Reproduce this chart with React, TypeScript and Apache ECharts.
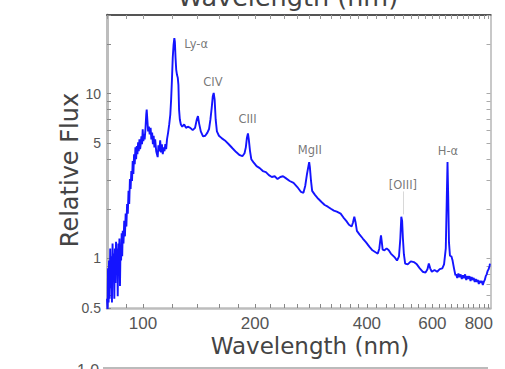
import React, { useEffect, useRef } from "react";
import * as echarts from "echarts";

// Composite quasar spectrum
const wavelength = [
  80.0, 80.3, 80.5, 80.8, 81.0, 81.3, 81.6, 81.9, 82.2, 82.5, 82.8, 83.1, 83.4, 83.7, 84.0, 84.3, 84.6, 84.9,
  85.2, 85.5, 85.8, 86.1, 86.4, 86.7, 87.0, 87.3, 87.6, 87.9, 88.2, 88.6, 89.0, 89.4, 89.8, 90.2, 90.6, 91.0,
  91.4, 91.8, 92.2, 92.6, 93.0, 93.4, 93.8, 94.2, 94.6, 95.0, 95.4, 95.8, 96.2, 96.6, 97.0, 97.4, 97.8, 98.2,
  98.6, 99.0, 99.4, 99.8, 100.2, 100.6, 101.0, 101.5, 102.0, 102.3, 102.7, 103.2, 103.7, 104.2, 104.8, 105.3,
  105.8, 106.3, 106.8, 107.3, 107.8, 108.5, 109.0, 109.5, 110.0, 110.6, 111.2, 111.8, 112.4, 113.0, 113.6,
  114.2, 114.8, 115.4, 116.0, 116.8, 117.6, 118.4, 119.0, 119.6, 120.2, 120.8, 121.4, 121.8, 122.3, 122.8,
  123.4, 124.0, 124.5, 125.0, 125.6, 126.4, 127.5, 129, 130.5, 132, 134, 136, 138, 139.5, 140.5, 141.5, 143,
  145, 147, 149, 150.5, 151.8, 153, 154, 154.9, 155.8, 156.8, 158, 160, 163, 166, 170, 174, 178, 182, 185,
  187.5, 189, 190.3, 191.5, 192.5, 194, 195.5, 198, 202, 206, 210, 214, 218, 222, 226, 230, 234, 238, 242,
  248, 254, 260, 266, 270, 273, 276, 278.5, 279.8, 281, 283, 285, 290, 296, 302, 308, 314, 320, 326, 332,
  340, 346, 352, 358, 364, 367, 370, 373, 376, 382, 390, 398, 406, 414, 422, 428, 432, 434.5, 436.5, 438.5,
  441, 446, 452, 458, 464, 470, 476, 482, 488, 492, 495, 497.5, 500, 503, 507, 515, 525, 535, 545, 555, 565,
  575, 582, 587, 592, 598, 608, 618, 628, 638, 645, 652, 656, 659, 662, 665, 669, 675, 680, 686, 692, 695,
  700, 705, 710, 715, 720, 725, 730, 735, 740, 745, 750, 755, 760, 765, 770, 775, 780, 785, 790, 795, 800,
  805, 810, 815, 820, 825, 830, 835, 840, 845, 850, 855, 857,
];
const flux = [
  0.57, 0.47, 0.87, 0.54, 0.97, 0.57, 1.15, 0.66, 1.03, 0.54, 1.23, 0.76, 1.07, 0.57, 1.15, 0.71, 1.26, 0.81,
  1.15, 0.59, 1.23, 0.87, 1.32, 0.68, 1.18, 0.97, 1.42, 1.03, 1.47, 1.23, 1.69, 1.36, 1.87, 1.56, 2.14, 1.87,
  2.57, 2.14, 3.03, 2.64, 3.39, 2.95, 3.9, 3.25, 4.29, 3.73, 4.72, 4.0, 4.8, 4.29, 5.06, 4.47, 5.28, 4.6,
  4.93, 5.5, 4.93, 6.07, 5.15, 5.66, 5.28, 6.07, 7.47, 8.0, 6.97, 5.9, 6.3, 5.66, 6.2, 5.28,
  5.8, 4.93, 5.55, 4.72, 5.28, 4.47, 4.29, 4.12, 4.85, 4.47, 5.2, 4.4, 4.93, 4.29, 4.72,
  4.47, 4.93, 4.6, 5.28, 5.8, 6.5, 7.47, 9.2, 12.1, 16.5, 19.7, 21.7, 20.6, 16.5, 14.0,
  13.0, 12.5, 11.3, 8.0, 6.97, 6.5, 6.3, 6.5, 6.2, 6.3, 6.2, 6.0, 6.2, 6.97, 7.3, 6.6, 5.9,
  5.5, 5.55, 5.8, 6.1, 6.97, 8.2, 9.6, 10.1, 9.2, 6.97, 5.9, 5.55, 5.35, 5.2, 4.93, 4.66, 4.42, 4.23, 4.17,
  4.35, 4.72, 5.4, 5.74, 5.28, 4.47, 4.0, 3.84, 3.63, 3.53, 3.39, 3.34, 3.2, 3.12, 3.15, 3.03, 3.12, 3.15, 3.07,
  2.95, 2.87, 2.71, 2.53, 2.5, 2.75, 3.25, 3.63, 3.84, 3.58, 2.95, 2.57, 2.43, 2.3, 2.2, 2.11, 2.06, 2.0, 1.95, 1.92,
  1.87, 1.77, 1.69, 1.6, 1.56, 1.65, 1.79, 1.65, 1.47, 1.4, 1.32, 1.25, 1.18, 1.12, 1.09, 1.07, 1.15, 1.28, 1.38, 1.27,
  1.13, 1.12, 1.15, 1.12, 1.07, 1.04, 1.01, 0.97, 1.03, 1.32, 1.79, 1.69, 1.32, 1.06, 0.93, 0.92, 0.96, 0.95, 0.92, 0.87, 0.83,
  0.82, 0.86, 0.93, 0.87, 0.83, 0.85, 0.83, 0.86, 0.87, 0.92, 1.15, 2.3, 3.84, 2.3, 1.25, 1.04, 1.03, 0.97, 0.87, 0.79, 0.8,
  0.76, 0.81, 0.77, 0.8, 0.75, 0.79, 0.76, 0.8, 0.74, 0.78, 0.75, 0.78, 0.73, 0.77, 0.74, 0.76, 0.72, 0.75, 0.72, 0.74, 0.7,
  0.73, 0.71, 0.73, 0.69, 0.72, 0.74, 0.78, 0.8, 0.84, 0.86, 0.9, 0.93,
];

// Emission-line annotations (label centre in data units)
const lineLabels = ["Ly-α", "CIV", "CIII", "MgII", "[OIII]", "H-α"];
const labelWavelength = [139, 154.2, 191, 281, 500, 661];
const labelFlux = [20.0, 11.8, 6.97, 4.54, 2.79, 4.47];

// Axes
const xRange = [80, 860];
const yRange = [0.5, 30];
const xTickLabels = [100, 200, 400, 600, 800];
const xTicks = [
  80, 90, 100, 120, 140, 160, 180, 200, 220, 240, 260, 280, 300, 320, 340, 360, 380, 400, 425, 450, 475, 500,
  525, 550, 575, 600, 625, 650, 675, 700, 725, 750, 775, 800, 825, 850,
];
const yTickLabels = [0.5, 1, 5, 10];
const yTicks = [0.5, 0.6, 0.7, 0.8, 0.9, 1, 2, 3, 4, 5, 6, 7, 8, 9, 10, 20, 30];

const tickFont = "Liberation Sans, Arial, sans-serif";
const titleFont = "DejaVu Sans, sans-serif";

export default function App() {
  const ref = useRef<HTMLDivElement>(null);
  useEffect(() => {
    const chart = echarts.init(ref.current!, null, { renderer: "svg" });
    const seriesData = wavelength.map((w, i) => [w, flux[i]]);
    const labelData = lineLabels.map((n, i) => ({ name: n, value: [labelWavelength[i], labelFlux[i]] }));
    chart.setOption({
      animation: false,
      backgroundColor: "#ffffff",
      grid: { left: 107, right: 14.5, top: 15, bottom: 61 },
      xAxis: [
        {
          type: "log",
          logBase: 10,
          min: xRange[0],
          max: xRange[1],
          position: "bottom",
          axisLine: { lineStyle: { color: "#bdbdbd", width: 2.5 } },
          axisTick: { inside: true, length: 4, customValues: xTicks, lineStyle: { color: "#888", width: 1 } },
          axisLabel: {
            customValues: xTickLabels,
            formatter: (v: number) => String(Math.round(v)),
            color: "#555",
            fontSize: 17,
            fontFamily: tickFont,
            margin: 7,
          },
          splitLine: { show: false },
          minorTick: { show: false },
        },
        {
          type: "log",
          logBase: 10,
          min: xRange[0],
          max: xRange[1],
          position: "top",
          axisLine: { lineStyle: { color: "#555", width: 2 } },
          axisTick: { inside: true, length: 4, customValues: xTicks, lineStyle: { color: "#999", width: 1 } },
          axisLabel: { show: false },
          splitLine: { show: false },
        },
      ],
      yAxis: [
        {
          type: "log",
          logBase: 10,
          min: yRange[0],
          max: yRange[1],
          position: "left",
          axisLine: { show: true, lineStyle: { color: "#bdbdbd", width: 3 } },
          axisTick: { show: true, inside: true, length: 4, customValues: yTicks, lineStyle: { color: "#888", width: 1 } },
          axisLabel: {
            customValues: yTickLabels,
            formatter: (v: number) => String(v),
            color: "#555",
            fontSize: 14,
            fontFamily: tickFont,
            margin: 6,
          },
          splitLine: { show: false },
        },
        {
          type: "log",
          logBase: 10,
          min: yRange[0],
          max: yRange[1],
          position: "right",
          axisLine: { show: true, lineStyle: { color: "#c8c8c8", width: 2 } },
          axisTick: { show: true, inside: true, length: 4, customValues: yTicks, lineStyle: { color: "#aaa", width: 1 } },
          axisLabel: { show: false },
          splitLine: { show: false },
        },
      ],
      series: [
        {
          type: "line",
          xAxisIndex: 0,
          yAxisIndex: 0,
          data: seriesData,
          showSymbol: false,
          symbol: "none",
          clip: true,
          lineStyle: { color: "#1414ff", width: 1.9 },
          silent: true,
          markLine: {
            silent: true,
            symbol: "none",
            label: { show: false },
            lineStyle: { color: "#d8d8d8", width: 1, type: "solid" },
            data: [[{ coord: [500, 2.55] }, { coord: [500, 1.85] }]],
          },
        },
        {
          type: "scatter",
          xAxisIndex: 0,
          yAxisIndex: 0,
          data: labelData,
          symbolSize: 1,
          itemStyle: { color: "rgba(0,0,0,0)" },
          silent: true,
          label: {
            show: true,
            position: "inside",
            formatter: "{b}",
            color: "#555",
            fontSize: 11.5,
            fontFamily: titleFont,
          },
        },
      ],
      graphic: [
        {
          type: "text",
          x: 288,
          y: -3,
          style: { text: "Wavelength (nm)", fontSize: 25.5, fontFamily: titleFont, fill: "#444", align: "center", verticalAlign: "middle" },
        },
        {
          type: "text",
          x: 310,
          y: 346,
          style: { text: "Wavelength (nm)", fontSize: 23, fontFamily: titleFont, fill: "#444", align: "center", verticalAlign: "middle" },
        },
        {
          type: "text",
          x: 70,
          y: 170,
          rotation: Math.PI / 2,
          style: { text: "Relative Flux", fontSize: 24, fontFamily: titleFont, fill: "#444", align: "center", verticalAlign: "middle" },
        },
        {
          type: "text",
          x: 88,
          y: 362,
          style: { text: "1.0", fontSize: 16, fontFamily: tickFont, fill: "#555", align: "center", verticalAlign: "top" },
        },
        {
          type: "line",
          shape: { x1: 103, y1: 368, x2: 488, y2: 368 },
          style: { stroke: "#bbbbbb", lineWidth: 2 },
        },
      ],
    });
    return () => chart.dispose();
  }, []);
  return (
    <div
      ref={ref}
      style={{ position: "absolute", left: 0, top: 0, width: 505, height: 369, background: "#fff" }}
    />
  );
}
